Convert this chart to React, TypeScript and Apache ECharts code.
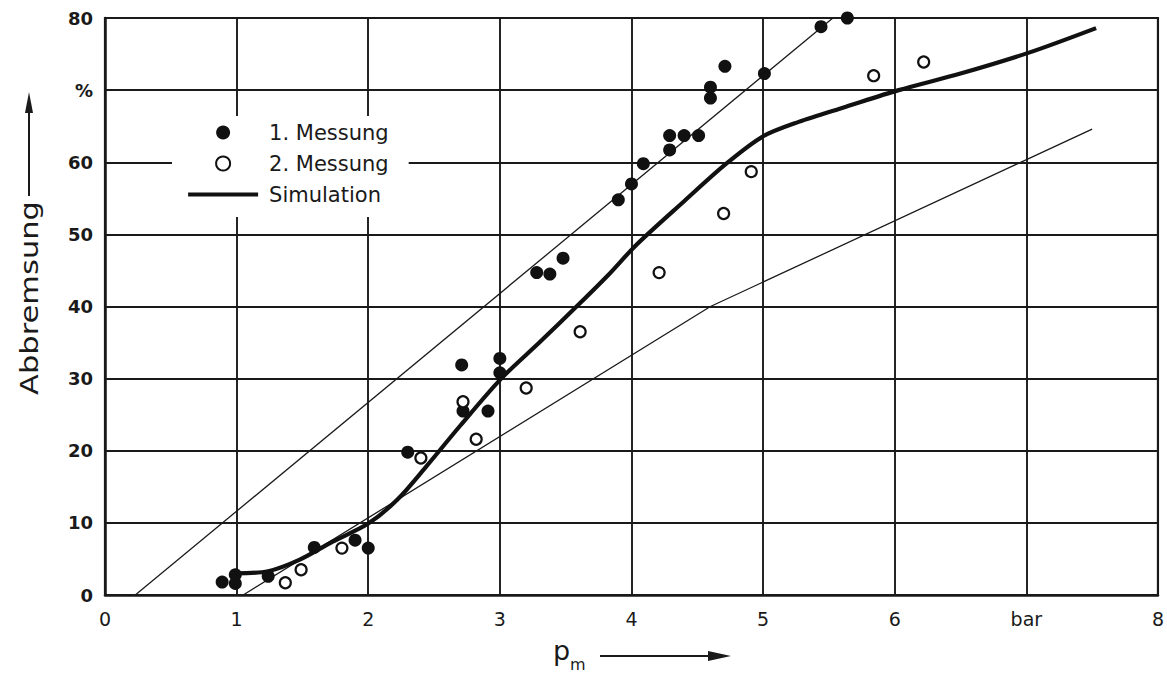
import React, { useEffect, useRef } from "react";
import * as echarts from "echarts";

const messung1: number[][] = [
  [0.89, 1.8], [0.99, 2.8], [0.99, 1.6], [1.24, 2.6], [1.59, 6.6], [1.9, 7.6], [2.0, 6.5],
  [2.3, 19.8], [2.71, 31.9], [2.72, 25.5], [2.91, 25.5], [3.0, 32.8], [3.0, 30.8],
  [3.28, 44.7], [3.38, 44.5], [3.48, 46.7], [3.9, 54.8], [4.0, 57.0], [4.09, 59.8],
  [4.29, 61.7], [4.29, 63.7], [4.4, 63.7], [4.51, 63.7], [4.6, 70.4], [4.6, 68.9],
  [4.71, 73.3], [5.01, 72.3], [5.44, 78.8], [5.64, 80.0],
];

const messung2: number[][] = [
  [1.37, 1.7], [1.49, 3.5], [1.8, 6.5], [2.4, 19.0], [2.72, 26.8], [2.82, 21.6],
  [3.2, 28.7], [3.61, 36.5], [4.21, 44.7], [4.7, 52.9], [4.91, 58.7], [5.84, 72.0], [6.22, 73.9],
];

const simulation: number[][] = [
  [0.99, 3.0], [1.24, 3.3], [1.48, 4.9], [1.73, 7.4], [2.0, 9.9], [2.22, 13.2], [2.44, 17.8],
  [2.7, 23.5], [3.01, 30.0], [3.3, 35.0], [3.6, 40.3], [3.82, 44.3], [4.04, 48.6],
  [4.4, 54.6], [4.72, 59.8], [5.0, 63.6], [5.27, 65.6], [5.63, 67.7], [6.03, 70.0],
  [6.5, 72.3], [7.02, 75.2], [7.53, 78.6],
];

const upperBound: number[][] = [[0.23, 0], [5.53, 80]];
const lowerBound: number[][] = [[1.05, 0], [4.6, 40], [7.5, 64.6]];

const xTickLabels: Record<number, string> = { 0: "0", 1: "1", 2: "2", 3: "3", 4: "4", 5: "5", 6: "6", 7: "bar", 8: "8" };
const yTickLabels: Record<number, string> = { 0: "0", 10: "10", 20: "20", 30: "30", 40: "40", 50: "50", 60: "60", 70: "%", 80: "80" };

const legendNames = ["1. Messung", "2. Messung", "Simulation"];

export default function App() {
  const ref = useRef<HTMLDivElement>(null);
  useEffect(() => {
    if (!ref.current) return;
    const chart = echarts.init(ref.current, undefined, { renderer: "svg" });
    const ink = "#1a1a1a";
    const labelFont = "DejaVu Sans";
    chart.setOption({
      animation: false,
      backgroundColor: "#fff",
      grid: { left: 105, right: 8, top: 18, bottom: 80, show: true, borderColor: ink, borderWidth: 2.2, backgroundColor: "transparent" },
      xAxis: {
        type: "value", min: 0, max: 8, interval: 1,
        axisLine: { show: true, lineStyle: { color: ink, width: 2.5 } },
        axisTick: { show: false },
        splitLine: { show: true, lineStyle: { color: ink, width: 1.9 } },
        axisLabel: { margin: 14, color: ink, fontSize: 19, fontFamily: labelFont, formatter: (v: number) => xTickLabels[v] ?? "" },
      },
      yAxis: {
        type: "value", min: 0, max: 80, interval: 10,
        axisLine: { show: true, lineStyle: { color: ink, width: 2.5 } },
        axisTick: { show: false },
        splitLine: { show: true, lineStyle: { color: ink, width: 1.9 } },
        axisLabel: { margin: 12, color: ink, fontSize: 18, fontWeight: "bold", fontFamily: labelFont, formatter: (v: number) => yTickLabels[v] ?? "" },
      },
      legend: {
        data: [
          legendNames[0],
          legendNames[1],
          { name: legendNames[2], itemStyle: { opacity: 0 }, lineStyle: { width: 4.2, color: "#111" } },
        ],
        orient: "vertical",
        left: 172, top: 116,
        itemWidth: 70, itemHeight: 14, itemGap: 10,
        backgroundColor: "#fff",
        padding: [6, 20, 12, 14],
        selectedMode: false,
        textStyle: { fontSize: 21, fontFamily: labelFont, color: ink, padding: [0, 0, 0, 6], lineHeight: 20 },
      },
      series: [
        { name: "upper", type: "line", data: upperBound, symbol: "none", silent: true, lineStyle: { color: ink, width: 1.3 }, z: 2 },
        { name: "lower", type: "line", data: lowerBound, symbol: "none", silent: true, lineStyle: { color: ink, width: 1.3 }, z: 2 },
        { name: "Simulation", type: "line", data: simulation, symbol: "none", smooth: 0.3, lineStyle: { color: "#111", width: 4.2 }, itemStyle: { color: "#111" }, z: 3 },
        { name: "1. Messung", type: "scatter", data: messung1, symbol: "circle", symbolSize: 13, itemStyle: { color: "#111", opacity: 1 }, z: 4 },
        { name: "2. Messung", type: "scatter", data: messung2, symbol: "circle", symbolSize: 11, itemStyle: { color: "#fff", borderColor: "#111", borderWidth: 2.2, opacity: 1 }, z: 5 },
      ],
      graphic: [
        { type: "text", x: 29, y: 298, rotation: Math.PI / 2, scaleX: 1.22, style: { text: "Abbremsung", fontSize: 25, fontFamily: labelFont, fill: ink, align: "center", verticalAlign: "middle" } },
        { type: "line", shape: { x1: 29, y1: 196, x2: 29, y2: 108 }, style: { stroke: ink, lineWidth: 2 } },
        { type: "polygon", shape: { points: [[29, 92], [25, 113], [33, 113]] }, style: { fill: ink } },
        { type: "text", x: 553, y: 650, style: { text: "p", fontSize: 27, fontFamily: labelFont, fill: ink, align: "left", verticalAlign: "middle" } },
        { type: "text", x: 570, y: 664, style: { text: "m", fontSize: 16, fontFamily: labelFont, fill: ink, align: "left", verticalAlign: "middle" } },
        { type: "line", shape: { x1: 600, y1: 656, x2: 712, y2: 656 }, style: { stroke: ink, lineWidth: 2 } },
        { type: "polygon", shape: { points: [[731, 656], [708, 651], [708, 661]] }, style: { fill: ink } },
      ],
    });
    return () => chart.dispose();
  }, []);
  return <div ref={ref} style={{ position: "fixed", left: 0, top: 0, width: 1167, height: 675 }} />;
}
